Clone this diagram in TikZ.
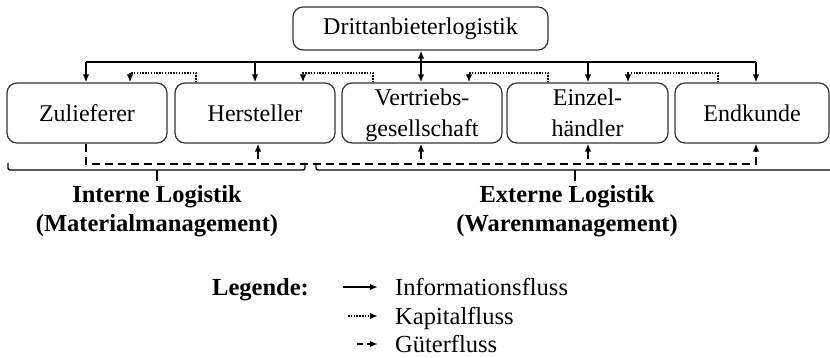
\documentclass[tikz,border=0pt]{standalone}
\usepackage{fontspec}
\setmainfont{Liberation Serif}
\usetikzlibrary{arrows.meta}
\begin{document}
\begin{tikzpicture}[x=1pt,y=-1pt,
  box/.style={draw=black!80,line width=1.2pt,rounded corners=10pt,inner sep=0pt,align=center,font=\fontsize{24}{31}\selectfont},
  info/.style={line width=2pt},
  tip/.style={-{Latex[length=8pt,width=6.5pt]}},
  kap/.style={line width=1.8pt,dash pattern=on 1.5pt off 1.3pt},
  gut/.style={line width=2pt,dash pattern=on 8pt off 5pt},
  brace/.style={line width=1.4pt},
  lbl/.style={font=\fontsize{24.5}{29}\selectfont\bfseries,align=center},
  lt/.style={font=\fontsize{24.5}{29}\selectfont,inner sep=0pt,anchor=base west}]
\useasboundingbox (0,0) rectangle (830,358);
% boxes
\node[box,minimum width=255pt,minimum height=43pt] (dritt) at (420.5,28.5) {Drittanbieterlogistik};
\node[box,minimum width=160pt,minimum height=60pt] (zul) at (87,113) {Zulieferer};
\node[box,minimum width=160pt,minimum height=60pt] (her) at (255,113) {Hersteller};
\node[box,minimum width=160pt,minimum height=60pt,text depth=-4pt] (vert) at (422,113) {Vertriebs-\\gesellschaft};
\node[box,minimum width=161pt,minimum height=60pt,text depth=-4pt] (einz) at (587.5,113) {Einzel-\\händler};
\node[box,minimum width=154pt,minimum height=60pt] (endk) at (752,113) {Endkunde};
% information flow
\coordinate (iL) at (86,62);
\coordinate (iH) at (255,62);
\coordinate (iV) at (421,62);
\coordinate (iE) at (588,62);
\coordinate (iR) at (756,62);
\draw[info] (iL) -- (iR);
\draw[info,tip] (iL) -- (iL |- zul.north);
\draw[info,tip] (iH) -- (iH |- her.north);
\draw[info,tip] (iE) -- (iE |- einz.north);
\draw[info,tip] (iR) -- (iR |- endk.north);
\draw[info,{Latex[length=8pt,width=6.5pt]}-{Latex[length=8pt,width=6.5pt]}] (iV |- dritt.south) -- (iV |- vert.north);
% capital flow
\coordinate (k1a) at (196,73); \coordinate (k1b) at (130,73);
\coordinate (k2a) at (373,73); \coordinate (k2b) at (303,73);
\coordinate (k3a) at (548,73); \coordinate (k3b) at (469,73);
\coordinate (k4a) at (718,73); \coordinate (k4b) at (628,73);
\draw[kap,tip] (k1a |- her.north) -- (k1a) -- (k1b) -- (k1b |- zul.north);
\draw[kap,tip] (k2a |- vert.north) -- (k2a) -- (k2b) -- (k2b |- her.north);
\draw[kap,tip] (k3a |- einz.north) -- (k3a) -- (k3b) -- (k3b |- vert.north);
\draw[kap,tip] (k4a |- endk.north) -- (k4a) -- (k4b) -- (k4b |- einz.north);
% goods flow
\coordinate (g0) at (86,164);
\coordinate (g5) at (756,164);
\draw[gut,tip] (g0 |- zul.south) -- (g0) -- (g5) -- (g5 |- endk.south);
\coordinate (g1) at (258,159);
\coordinate (g2) at (421,159);
\coordinate (g3) at (588,159);
\draw[info,tip] (g1) -- (g1 |- her.south);
\draw[info,tip] (g2) -- (g2 |- vert.south);
\draw[info,tip] (g3) -- (g3 |- einz.south);
% brackets
\draw[brace,rounded corners=2pt] (8,163) -- (8,170) -- (305,170) -- (305,163);
\draw[brace] (157,170) -- (157,181);
\draw[brace,rounded corners=2pt] (316,163) -- (316,170) -- (830,170);
\draw[brace] (575,170) -- (575,181);
% labels
\node[lbl] (intern) at (157,211) {Interne Logistik\\(Materialmanagement)};
\node[lbl] (extern) at (567,211) {Externe Logistik\\(Warenmanagement)};
% legend
\node[lt,font=\fontsize{24.5}{29}\selectfont\bfseries] (leg) at (212,295) {Legende:};
\node[lt] (linf) at (395,295) {Informationsfluss};
\node[lt] (lkap) at (395,324) {Kapitalfluss};
\node[lt] (lgut) at (395,352) {Güterfluss};
\coordinate (a1s) at (343,287); \coordinate (a1e) at (378,287);
\coordinate (a2s) at (348,316); \coordinate (a2e) at (378,316);
\coordinate (a3s) at (357,344); \coordinate (a3e) at (378,344);
\draw[info,tip] (a1s) -- (a1e);
\draw[kap,tip] (a2s) -- (a2e);
\draw[gut,tip,dash pattern=on 6pt off 4pt] (a3s) -- (a3e);
\end{tikzpicture}
\end{document}
